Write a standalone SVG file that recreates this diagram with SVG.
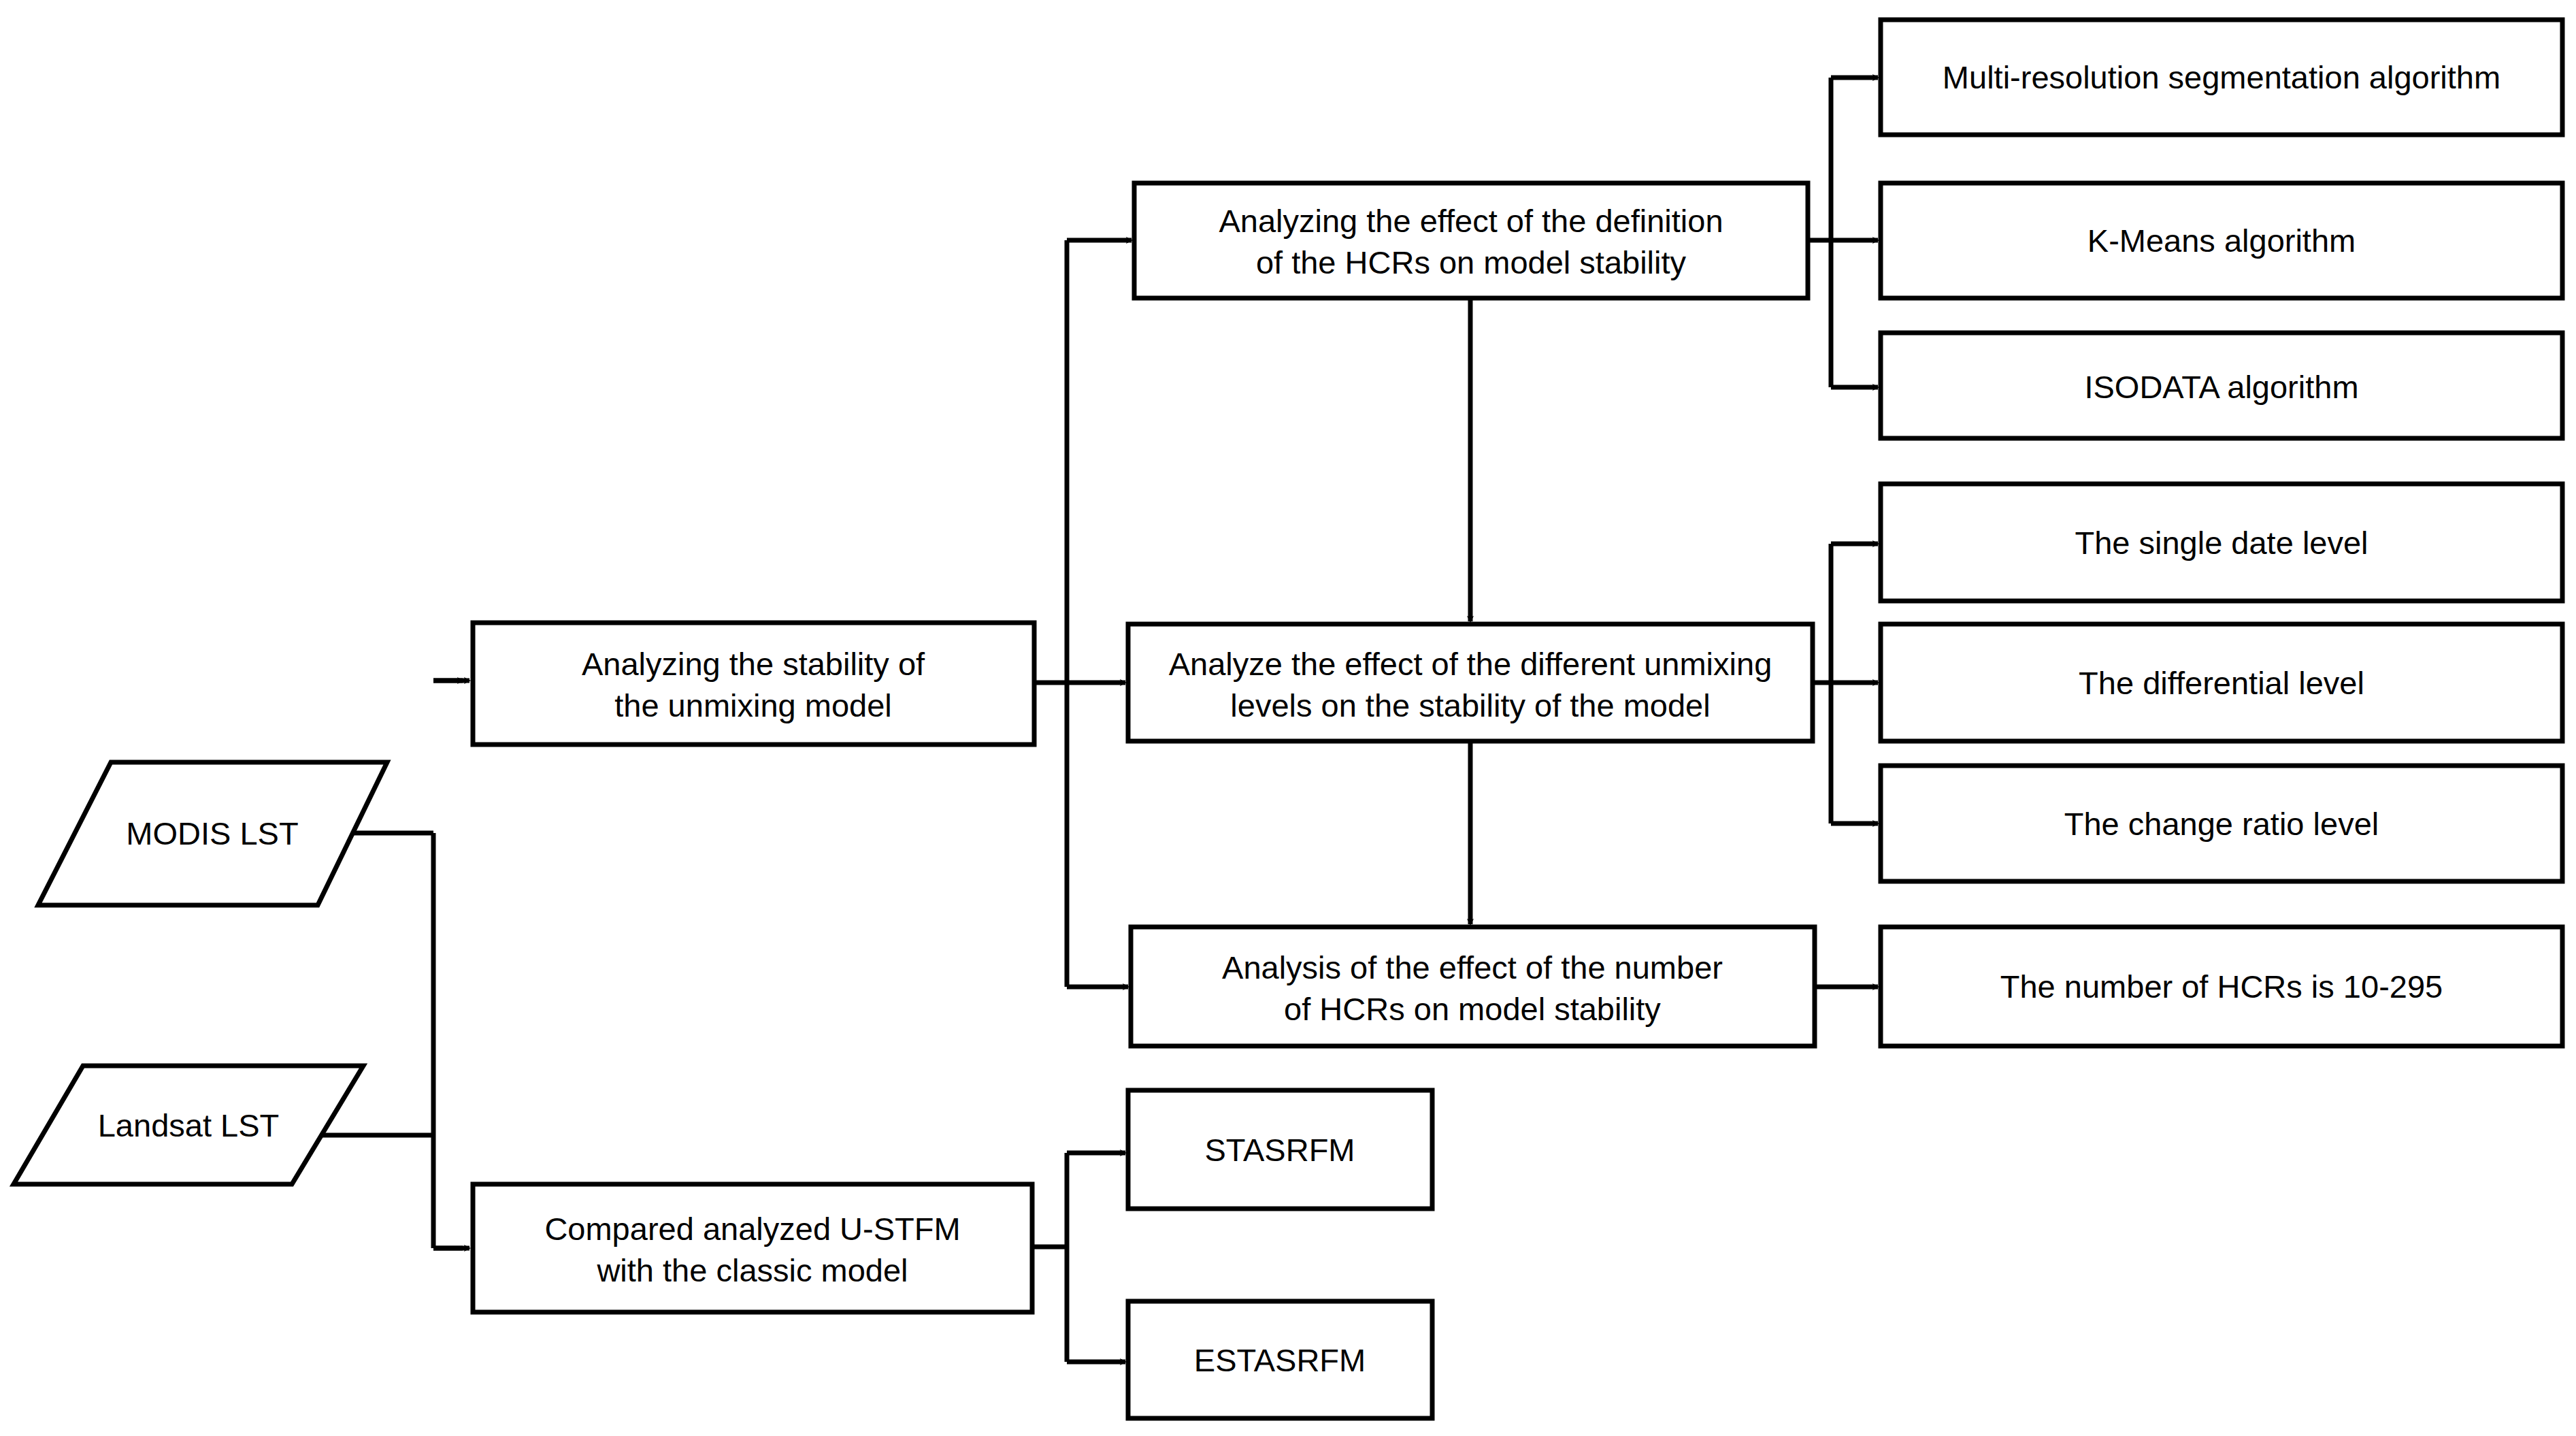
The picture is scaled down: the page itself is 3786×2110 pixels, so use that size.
<svg xmlns="http://www.w3.org/2000/svg" width="3786" height="2110" viewBox="0 0 3786 2110">
<style>
.b{fill:#fff;stroke:#000;stroke-width:7}
.c{fill:none;stroke:#000;stroke-width:7}
text{font-family:"Liberation Sans",Arial,sans-serif;font-size:47px;text-anchor:middle;fill:#000}
</style>
<defs><marker id="a" markerWidth="10" markerHeight="10" refX="8" refY="5" orient="auto" markerUnits="userSpaceOnUse" viewBox="0 0 10 10"><path d="M0,0L10,5L0,10L2,5z" fill="#000"/></marker></defs>
<rect width="3786" height="2110" fill="#fff"/>
<g id="connectors">
<path class="c" d="M520,1224H637M464,1668H637M637,1224V1834M637,1000H680M637,1834H680" />
<path class="c" d="M637,1000H680" marker-end="url(#a)" style="stroke-width:0"/>
<line class="c" x1="637" y1="1000" x2="690" y2="1000" marker-end="url(#a)"/>
<line class="c" x1="637" y1="1834" x2="690" y2="1834" marker-end="url(#a)"/>
<path class="c" d="M1520,1003H1568M1568,353V1450"/>
<line class="c" x1="1568" y1="353" x2="1663" y2="353" marker-end="url(#a)"/>
<line class="c" x1="1568" y1="1003" x2="1654" y2="1003" marker-end="url(#a)"/>
<line class="c" x1="1568" y1="1450" x2="1658" y2="1450" marker-end="url(#a)"/>
<path class="c" d="M1517,1832H1568M1568,1694V2001"/>
<line class="c" x1="1568" y1="1694" x2="1654" y2="1694" marker-end="url(#a)"/>
<line class="c" x1="1568" y1="2001" x2="1654" y2="2001" marker-end="url(#a)"/>
<line class="c" x1="2161" y1="438" x2="2161" y2="913" marker-end="url(#a)"/>
<line class="c" x1="2161" y1="1089" x2="2161" y2="1358" marker-end="url(#a)"/>
<path class="c" d="M2657,353H2691M2691,114V569M2664,1003H2691M2691,799V1210"/>
<line class="c" x1="2691" y1="114" x2="2760" y2="114" marker-end="url(#a)"/>
<line class="c" x1="2691" y1="353" x2="2760" y2="353" marker-end="url(#a)"/>
<line class="c" x1="2691" y1="569" x2="2760" y2="569" marker-end="url(#a)"/>
<line class="c" x1="2691" y1="799" x2="2760" y2="799" marker-end="url(#a)"/>
<line class="c" x1="2691" y1="1003" x2="2760" y2="1003" marker-end="url(#a)"/>
<line class="c" x1="2691" y1="1210" x2="2760" y2="1210" marker-end="url(#a)"/>
<line class="c" x1="2667" y1="1450" x2="2760" y2="1450" marker-end="url(#a)"/>
</g>
<g id="modis"><polygon class="b" points="163,1120 569,1120 467,1330 56,1330"/><text x="312" y="1241">MODIS LST</text></g>
<g id="landsat"><polygon class="b" points="122,1566 534,1566 429,1740 20,1740"/><text x="277" y="1670">Landsat LST</text></g>
<g id="stability"><rect class="b" x="695" y="915" width="825" height="179"/><text x="1107" y="992">Analyzing the stability of</text><text x="1107" y="1053">the unmixing model</text></g>
<g id="compared"><rect class="b" x="695" y="1740" width="822" height="188"/><text x="1106" y="1822">Compared analyzed U-STFM</text><text x="1106" y="1883">with the classic model</text></g>
<g id="definition"><rect class="b" x="1667" y="269" width="990" height="169"/><text x="2162" y="341">Analyzing the effect of the definition</text><text x="2162" y="402">of the HCRs on model stability</text></g>
<g id="unmixing"><rect class="b" x="1658" y="917" width="1006" height="172"/><text x="2161" y="992">Analyze the effect of the different unmixing</text><text x="2161" y="1053">levels on the stability of the model</text></g>
<g id="number"><rect class="b" x="1662" y="1362" width="1005" height="175"/><text x="2164" y="1438">Analysis of the effect of the number</text><text x="2164" y="1499">of HCRs on model stability</text></g>
<g id="stasrfm"><rect class="b" x="1658" y="1602" width="447" height="174"/><text x="1881" y="1706">STASRFM</text></g>
<g id="estasrfm"><rect class="b" x="1658" y="1912" width="447" height="172"/><text x="1881" y="2015">ESTASRFM</text></g>
<g id="multi"><rect class="b" x="2764" y="29" width="1002" height="169"/><text x="3265" y="130">Multi-resolution segmentation algorithm</text></g>
<g id="kmeans"><rect class="b" x="2764" y="269" width="1002" height="169"/><text x="3265" y="370">K-Means algorithm</text></g>
<g id="isodata"><rect class="b" x="2764" y="489" width="1002" height="155"/><text x="3265" y="585">ISODATA algorithm</text></g>
<g id="single"><rect class="b" x="2764" y="711" width="1002" height="172"/><text x="3265" y="814">The single date level</text></g>
<g id="differential"><rect class="b" x="2764" y="917" width="1002" height="172"/><text x="3265" y="1020">The differential level</text></g>
<g id="ratio"><rect class="b" x="2764" y="1125" width="1002" height="170"/><text x="3265" y="1227">The change ratio level</text></g>
<g id="hcrs"><rect class="b" x="2764" y="1362" width="1002" height="175"/><text x="3265" y="1466">The number of HCRs is 10-295</text></g>
</svg>
